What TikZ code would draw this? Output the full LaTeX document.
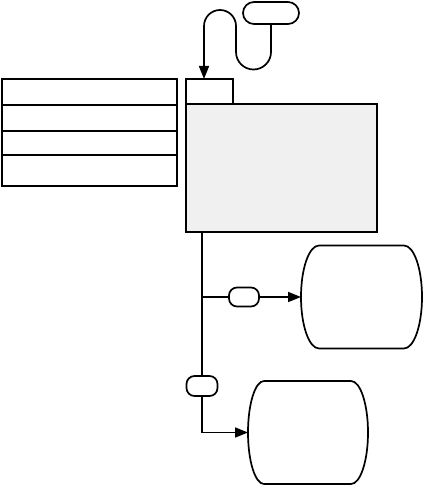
\documentclass[tikz,border=0pt]{standalone}
\usetikzlibrary{arrows.meta}
\begin{document}
\begin{tikzpicture}[x=1pt,y=1pt,
  box/.style={draw,line width=1.7pt,inner sep=0pt,outer sep=0pt,rectangle},
  pill/.style={box,rounded corners=9pt},
  ghost/.style={inner sep=0pt,outer sep=0pt,rectangle},
  conn/.style={line width=1.7pt},
  arr/.style={conn,-{Stealth[inset=0pt,length=13pt,width=10pt]}}]
\useasboundingbox (0,0) rectangle (425,-486);
% left stacked rows
\node[box,minimum width=175pt,minimum height=26pt] (r1) at (89.5,-92) {};
\node[box,minimum width=175pt,minimum height=26pt] (r2) at (89.5,-118) {};
\node[box,minimum width=175pt,minimum height=24pt] (r3) at (89.5,-143) {};
\node[box,minimum width=175pt,minimum height=31pt] (r4) at (89.5,-170.5) {};
% top pill
\node[pill,rounded corners=11pt,minimum width=56pt,minimum height=22pt] (top) at (271,-13) {};
% small tab and big box
\node[box,minimum width=47pt,minimum height=25pt] (tab) at (209.5,-91.5) {};
\node[box,fill=black!6,minimum width=191pt,minimum height=128pt] (big) at (281.5,-168) {};
% connector from pill to tab
\coordinate (tin) at (204,-79);
\draw[arr] (top.south) -- (271,-52) arc[start angle=0,end angle=-180,radius=17.5]
  -- (236,-26) arc[start angle=0,end angle=180,radius=16] -- (tin);
% trunk
\coordinate (t0) at (202,-232);
\coordinate (j1) at (202,-297);
\node[pill,rounded corners=8pt,minimum width=30pt,minimum height=19pt] (p1) at (244,-297) {};
\node[pill,rounded corners=8pt,minimum width=31pt,minimum height=20pt] (p2) at (202,-386) {};
% barrels
\node[ghost,minimum width=121pt,minimum height=103pt] (b1) at (361.5,-297) {};
\node[ghost,minimum width=120pt,minimum height=103pt] (b2) at (308,-432.5) {};
\draw[conn] ([xshift=18pt]b1.north west) -- ([xshift=-18pt]b1.north east)
  arc[start angle=90,end angle=-90,x radius=18pt,y radius=51.5pt]
  -- ([xshift=18pt]b1.south west)
  arc[start angle=270,end angle=90,x radius=18pt,y radius=51.5pt] -- cycle;
\draw[conn] ([xshift=16pt]b2.north west) -- ([xshift=-17pt]b2.north east)
  arc[start angle=90,end angle=-90,x radius=17pt,y radius=51.5pt]
  -- ([xshift=16pt]b2.south west)
  arc[start angle=270,end angle=90,x radius=16pt,y radius=51.5pt] -- cycle;
% connectors
\draw[conn] (t0) -- (p2.north);
\draw[conn] (j1) -- (p1.west);
\draw[arr] (p1.east) -- (b1.west);
\draw[arr] (p2.south) |- (b2.west);
\end{tikzpicture}
\end{document}
